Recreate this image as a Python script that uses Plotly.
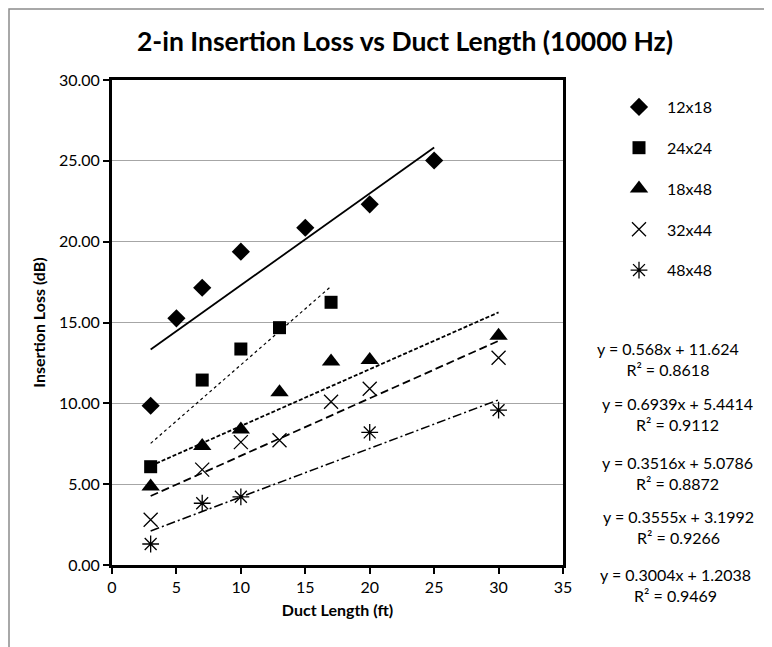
import plotly.graph_objects as go

# ---- data ----
series_names = ["12x18", "24x24", "18x48", "32x44", "48x48"]
x_12x18 = [3, 5, 7, 10, 15, 20, 25]
y_12x18 = [9.85, 15.26, 17.15, 19.38, 20.86, 22.31, 25.02]
x_24x24 = [3, 7, 10, 13, 17]
y_24x24 = [6.08, 11.44, 13.36, 14.68, 16.25]
x_18x48 = [3, 7, 10, 13, 17, 20, 30]
y_18x48 = [4.86, 7.36, 8.38, 10.68, 12.58, 12.68, 14.18]
x_32x44 = [3, 7, 10, 13, 17, 20, 30]
y_32x44 = [2.8, 5.9, 7.6, 7.72, 10.1, 10.9, 12.82]
x_48x48 = [3, 7, 10, 20, 30]
y_48x48 = [1.3, 3.82, 4.22, 8.2, 9.58]

slopes = [0.568, 0.6939, 0.3516, 0.3555, 0.3004]
intercepts = [11.624, 5.4414, 5.0786, 3.1992, 1.2038]
r2_values = ["0.8618", "0.9112", "0.8872", "0.9266", "0.9469"]
eq_texts = ["y = 0.568x + 11.624", "y = 0.6939x + 5.4414", "y = 0.3516x + 5.0786",
            "y = 0.3555x + 3.1992", "y = 0.3004x + 1.2038"]

xs = [x_12x18, x_24x24, x_18x48, x_32x44, x_48x48]
ys = [y_12x18, y_24x24, y_18x48, y_32x44, y_48x48]

symbols = ["diamond", "square", "triangle-up", "x-thin-open", "asterisk-open"]
msizes = [14, 13, 16, 14, 14]
dashes = ["solid", "dot", "4px,2px", "8px,4px", "9px,3px,2px,3px"]
lwidths = [1.8, 1.2, 1.8, 1.8, 1.5]

FONT = "Lato, Calibri, sans-serif"

# page is offset by the 8px body margin; layout is expressed in figure pixels
OFF = 8
L, R, T, B = 112 - OFF, 563 - OFF, 80 - OFF, 565 - OFF
W, H = R - L, B - T

fig = go.Figure()

for i, name in enumerate(series_names):
    x0, x1 = min(xs[i]), max(xs[i])
    fig.add_trace(go.Scatter(
        x=[x0, x1], y=[slopes[i] * x0 + intercepts[i], slopes[i] * x1 + intercepts[i]],
        mode="lines", line=dict(color="black", width=lwidths[i], dash=dashes[i]),
        showlegend=False, hoverinfo="skip"))

for i, name in enumerate(series_names):
    open_sym = symbols[i].endswith("open")
    fig.add_trace(go.Scatter(
        x=xs[i], y=ys[i], mode="markers", name=name, legendgroup=name,
        marker=dict(symbol=symbols[i], size=msizes[i], color="black",
                    line=dict(color="black", width=1.3 if open_sym else 0))))

# equations (page pixel positions)
eq_y = [348, 403, 462, 516, 574]
eq_x = [668, 677, 677, 678, 675]
for i in range(5):
    fig.add_annotation(
        xref="paper", yref="paper",
        x=(eq_x[i] - OFF - L) / W, y=(B - (eq_y[i] - OFF)) / H,
        text=eq_texts[i] + "<br>R\u00b2 = " + r2_values[i],
        showarrow=False, align="center", xanchor="center", yanchor="top",
        yshift=11,
        font=dict(family=FONT, size=16, color="black"))

# outer chart border
fig.add_shape(type="rect", xref="paper", yref="paper",
              x0=(1 - L) / W, x1=(761 - L) / W, y0=(B - 700) / H, y1=(B - 1) / H,
              line=dict(color="#8c8c8c", width=1.5), fillcolor="rgba(0,0,0,0)", layer="below")

fig.update_layout(
    width=772, height=647,
    margin=dict(l=L, r=772 - R, t=T, b=647 - B),
    paper_bgcolor="white", plot_bgcolor="white",
    font=dict(family=FONT, size=16, color="black"),
    title=dict(text="<b>2-in Insertion Loss vs Duct Length (10000 Hz)</b>",
               x=(405 - OFF) / 772, xanchor="center", y=1 - (42 - OFF) / 647, yanchor="middle",
               font=dict(family=FONT, size=26.5, color="black")),
    legend=dict(x=(603 - L) / W, xanchor="left", y=(B - 82) / H, yanchor="top",
                font=dict(family=FONT, size=16), tracegroupgap=17, itemwidth=46,
                bgcolor="rgba(0,0,0,0)", itemsizing="trace"),
    showlegend=True,
)

fig.update_xaxes(range=[0, 35], dtick=5, tick0=0, showgrid=False,
                 showline=True, linecolor="black", linewidth=3, mirror=True,
                 ticks="outside", ticklen=6, tickwidth=1.5, tickcolor="black",
                 zeroline=False,
                 title=dict(text="<b>Duct Length (ft)</b>", font=dict(family=FONT, size=16), standoff=10),
                 tickfont=dict(family=FONT, size=16))
fig.update_yaxes(range=[0, 30], dtick=5, tick0=0, tickformat=".2f",
                 showgrid=True, gridcolor="#a6a6a6", gridwidth=1,
                 showline=True, linecolor="black", linewidth=3, mirror=True,
                 ticks="outside", ticklen=6, tickwidth=1.5, tickcolor="black",
                 zeroline=False,
                 title=dict(text="<b>Insertion Loss (dB)</b>", font=dict(family=FONT, size=16), standoff=10),
                 tickfont=dict(family=FONT, size=16))

fig.write_html("out.html")
